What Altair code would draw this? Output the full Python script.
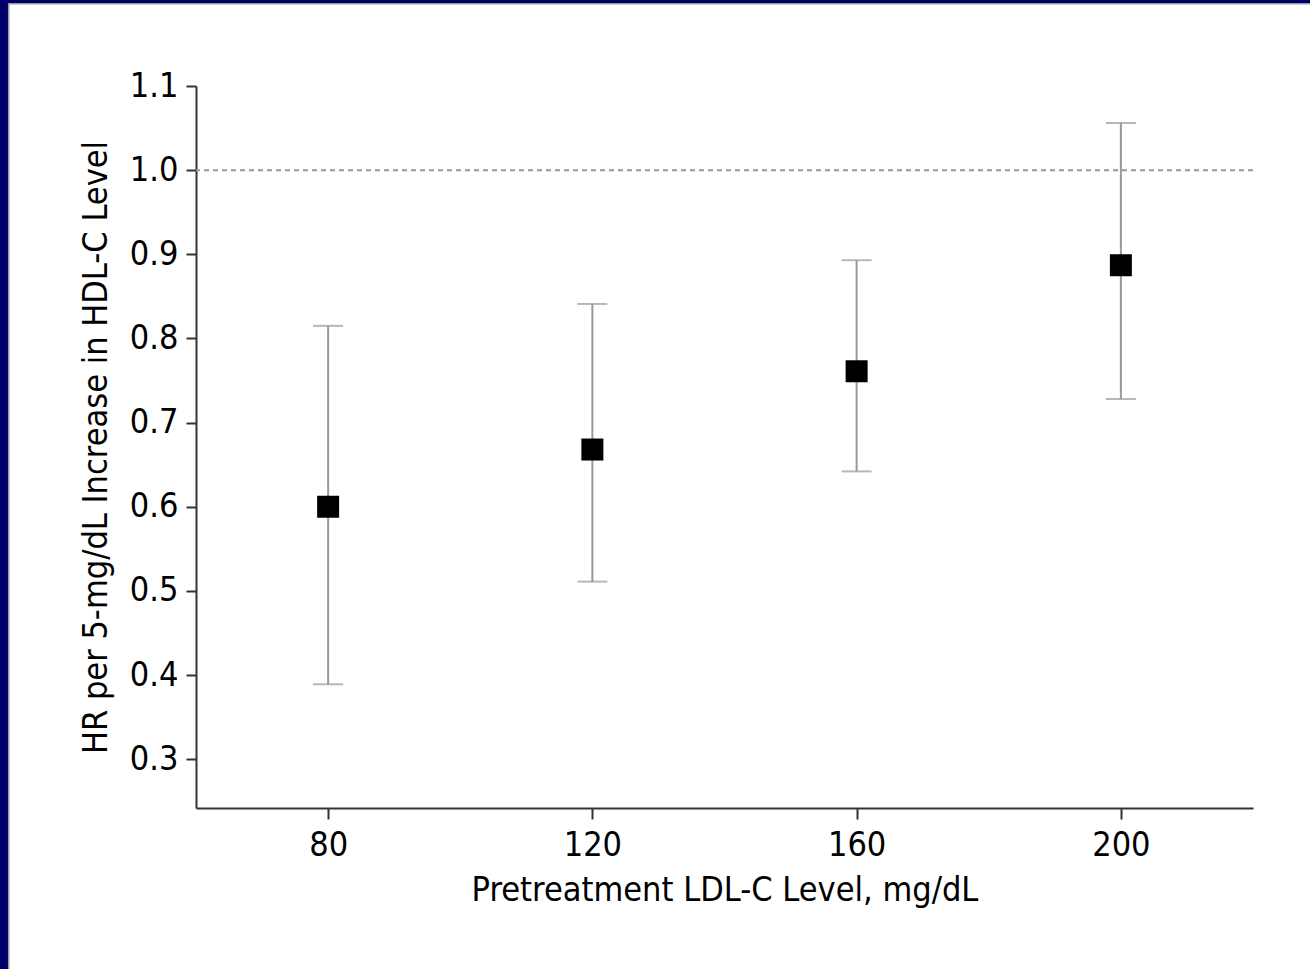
import altair as alt
import pandas as pd

ldl = [80, 120, 160, 200]
hr = [0.600, 0.668, 0.761, 0.887]
ci_low = [0.389, 0.511, 0.642, 0.728]
ci_high = [0.815, 0.841, 0.893, 1.056]
y_ticks = [0.3, 0.4, 0.5, 0.6, 0.7, 0.8, 0.9, 1.0, 1.1]
x_ticks = [80, 120, 160, 200]
ref_value = [1.0]

df = pd.DataFrame({"ldl": ldl, "hr": hr, "lo": ci_low, "hi": ci_high})
ref = pd.DataFrame({"y": ref_value})

FONT = "DejaVu Sans Condensed"
FS = 34
W, H = 1057, 722
PL, PT = 196, 86

xs = alt.Scale(domain=[60, 220], nice=False, zero=False)
ys = alt.Scale(domain=[0.242, 1.1], nice=False, zero=False)

xaxis = alt.Axis(values=x_ticks, title="Pretreatment LDL-C Level, mg/dL", grid=False,
                 domainColor="#333333", domainWidth=2, tickColor="#333333", tickWidth=2,
                 tickSize=11, labelFontSize=FS, labelColor="black", labelPadding=9,
                 titleFontSize=FS, titleFontWeight="normal", titleColor="black", titlePadding=11,
                 labelFont=FONT, titleFont=FONT)
yaxis = alt.Axis(values=y_ticks, format=".1f", title="HR per 5-mg/dL Increase in HDL-C Level",
                 grid=False, domainColor="#333333", domainWidth=2, tickColor="#333333", tickWidth=2,
                 tickSize=10, labelFontSize=FS, labelColor="black", labelPadding=8,
                 titleFontSize=FS, titleFontWeight="normal", titleColor="black", titlePadding=16,
                 labelFont=FONT, titleFont=FONT)

base = alt.Chart(df)

bars = base.mark_rule(color="#999999", strokeWidth=2).encode(
    x=alt.X("ldl:Q", scale=xs, axis=xaxis),
    y=alt.Y("lo:Q", scale=ys, axis=yaxis),
    y2="hi:Q",
)
cap_lo = base.mark_tick(color="#999999", thickness=2, size=30, orient="horizontal").encode(
    x=alt.X("ldl:Q", scale=xs), y=alt.Y("lo:Q", scale=ys))
cap_hi = base.mark_tick(color="#999999", thickness=2, size=30, orient="horizontal").encode(
    x=alt.X("ldl:Q", scale=xs), y=alt.Y("hi:Q", scale=ys))
refline = alt.Chart(ref).mark_rule(color="#999999", strokeWidth=2, strokeDash=[5, 4]).encode(
    y=alt.Y("y:Q", scale=ys))
points = base.mark_square(color="black", size=484, opacity=1, filled=True).encode(
    x=alt.X("ldl:Q", scale=xs), y=alt.Y("hr:Q", scale=ys))

# decorative frame (navy strips at left and top)
frame_left = alt.Chart(ref).mark_rule(color="#000068", strokeWidth=8).encode(
    x=alt.value(-PL + 4), y=alt.value(-PT), y2=alt.value(969 - PT))
frame_left_g = alt.Chart(ref).mark_rule(color="#999999", strokeWidth=1.5).encode(
    x=alt.value(-PL + 8.7), y=alt.value(-PT + 3), y2=alt.value(969 - PT))
frame_top = alt.Chart(ref).mark_rule(color="#000068", strokeWidth=3).encode(
    y=alt.value(-PT + 1.5), x=alt.value(-PL), x2=alt.value(1310 - PL))
frame_top_g = alt.Chart(ref).mark_rule(color="#999999", strokeWidth=1.5).encode(
    y=alt.value(-PT + 3.7), x=alt.value(-PL + 8), x2=alt.value(1310 - PL))

chart = alt.layer(refline, bars, cap_lo, cap_hi, points,
                  frame_left, frame_left_g, frame_top, frame_top_g).properties(
    width=W, height=H,
    autosize=alt.AutoSizeParams(type="none"),
    padding={"left": PL, "top": PT, "right": 1310 - PL - W, "bottom": 969 - PT - H},
    background="white",
).configure_view(stroke=None)

chart.save("out.html", embed_options={"renderer": "svg", "actions": False})
